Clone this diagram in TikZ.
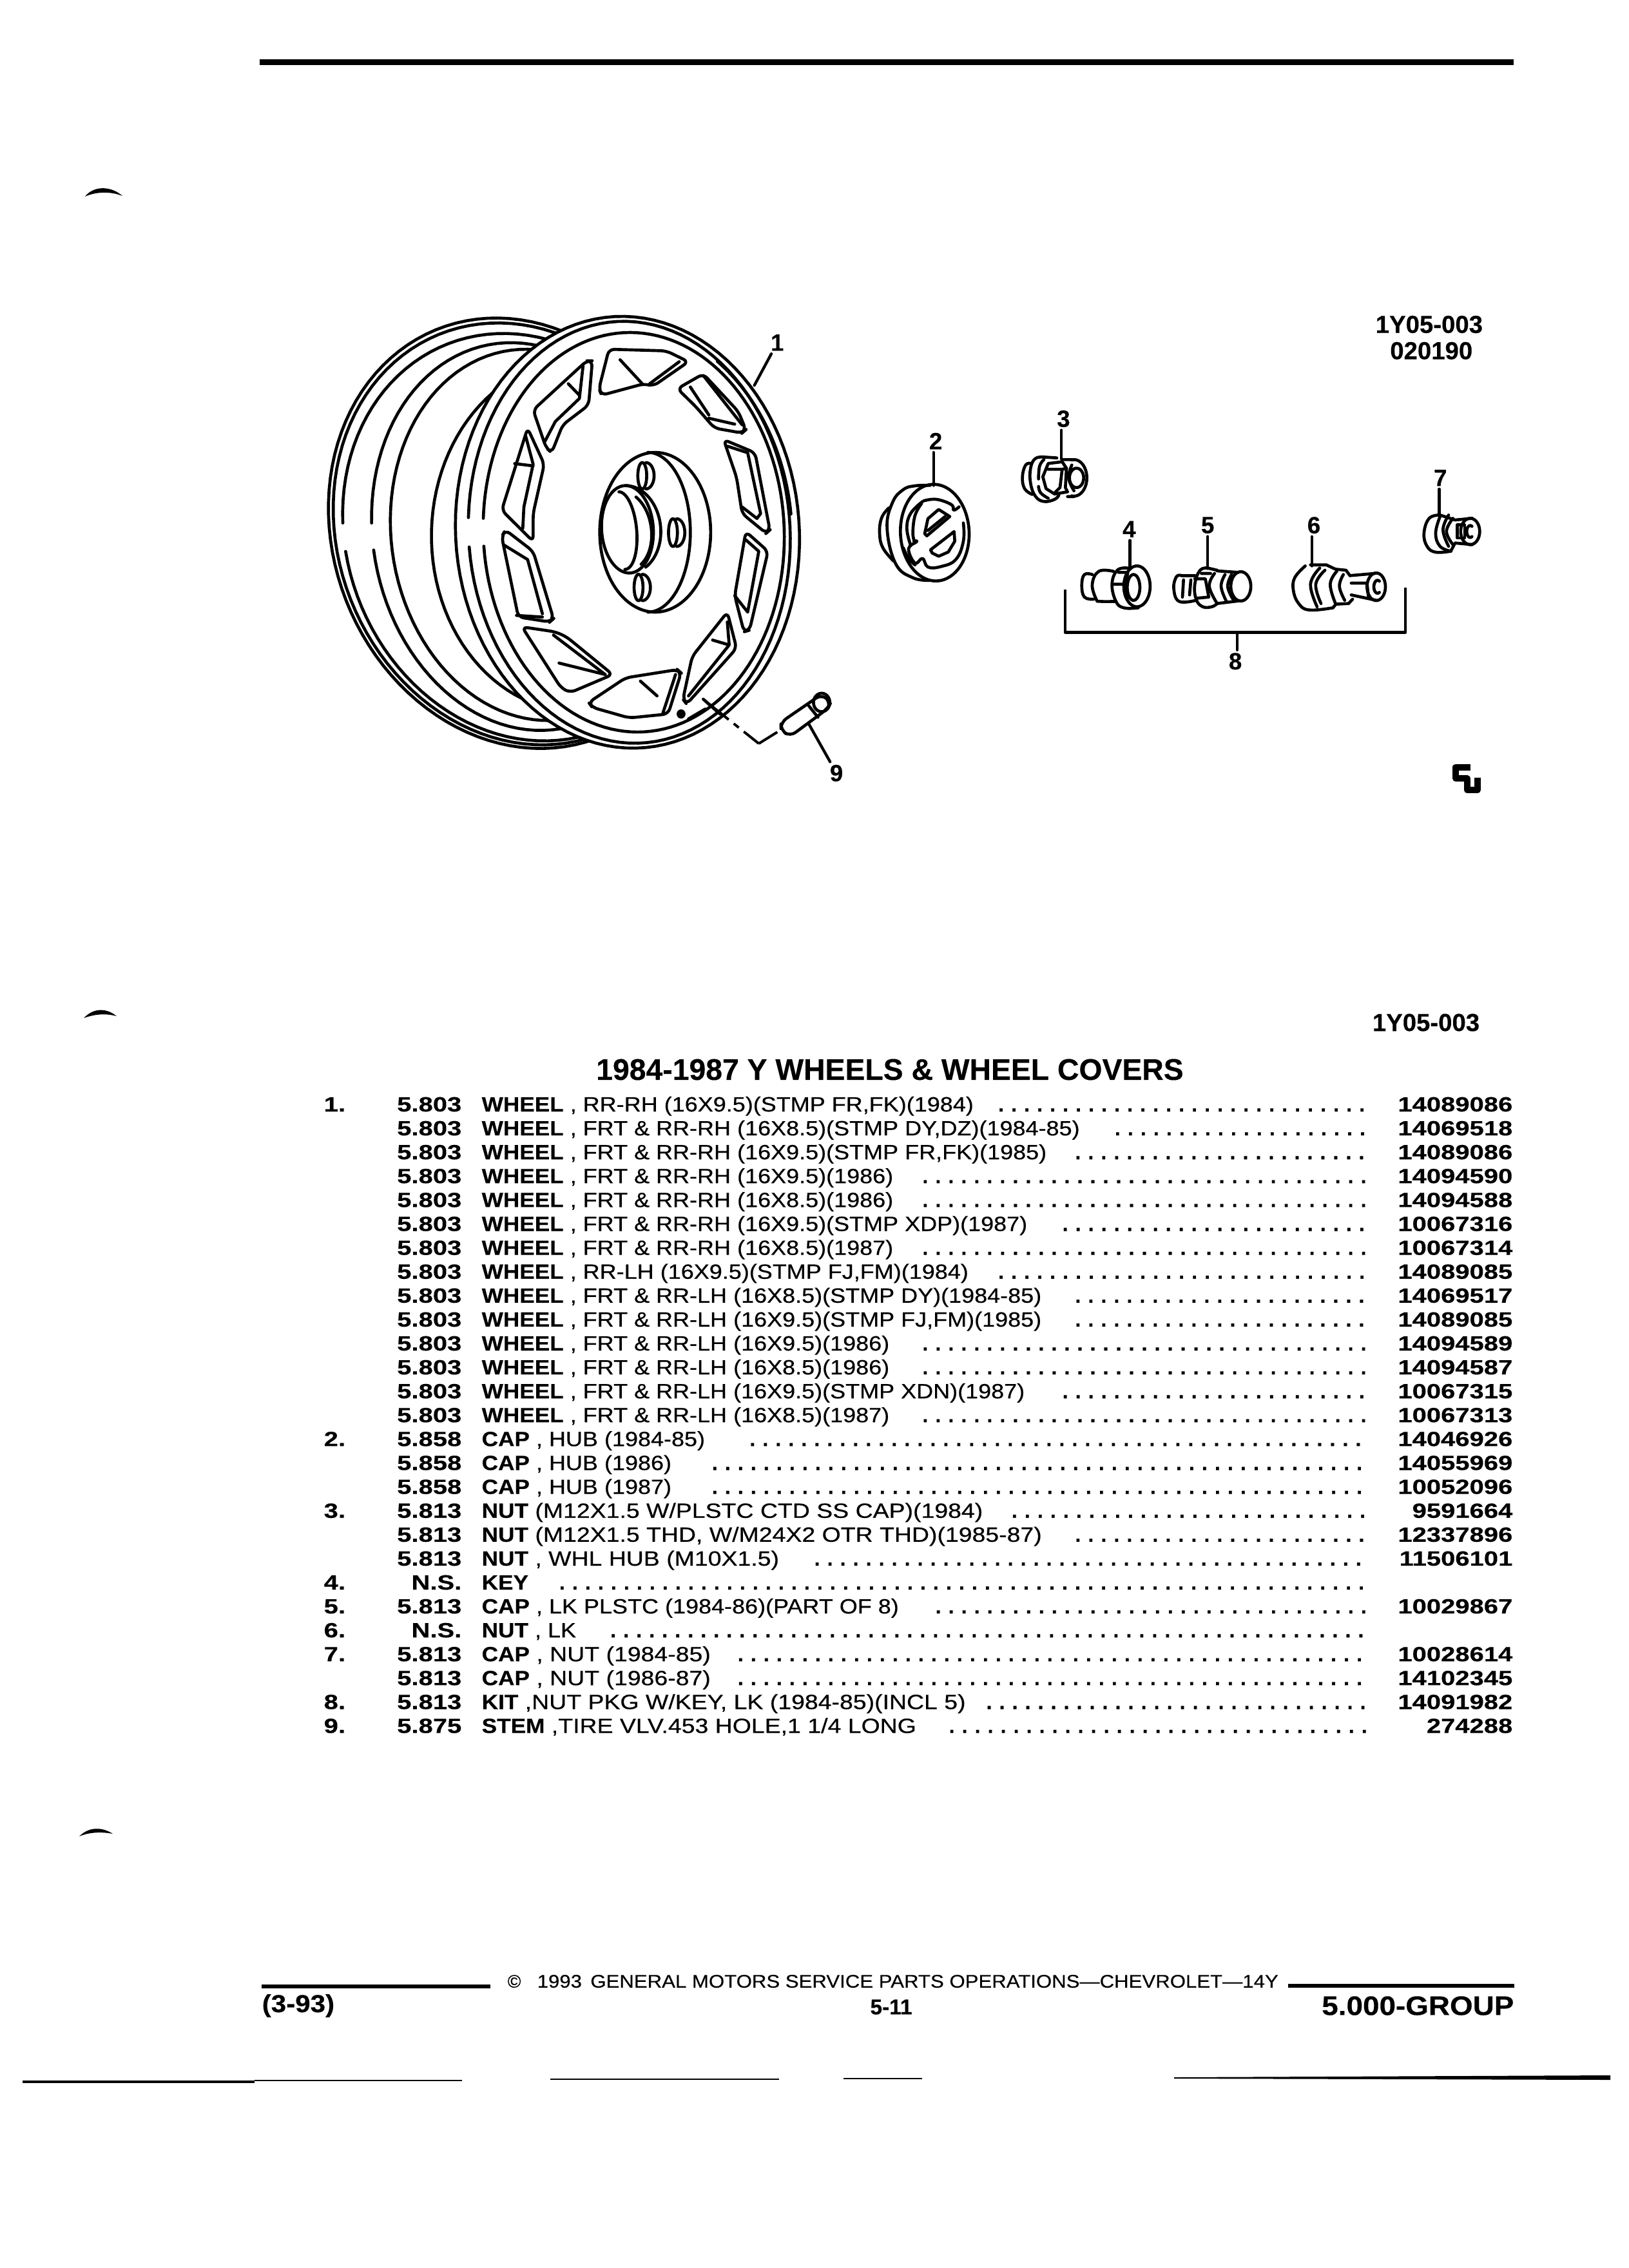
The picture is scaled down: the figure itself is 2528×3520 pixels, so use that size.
\documentclass[tikz,border=0pt]{standalone}
\usepackage{fontspec}
\setmainfont{Liberation Sans}[FakeBold=0.3]
\newfontfamily\fnum{Liberation Sans}[FakeStretch=1.25,FakeBold=0.3]
\newfontfamily\ftxt{Liberation Sans}[FakeStretch=1.1,FakeBold=0.3]
\newfontfamily\freg{Liberation Sans}[FakeStretch=1.125,FakeBold=0.5]
\newfontfamily\fregw{Liberation Sans}[FakeStretch=1.17,FakeBold=0.5]
\tikzset{
  ln/.style={line width=1.4pt,line cap=round,line join=round},
  ld/.style={line width=1.3pt,line cap=round},
  lab/.style={font=\fontsize{11}{11}\selectfont\bfseries,inner sep=1.2pt},
  hdr/.style={font=\fontsize{11.5}{11.5}\selectfont\bfseries,inner sep=0pt},
  cell/.style={inner sep=0pt,font=\fontsize{9.6}{10}\selectfont}
}
% sheared ellipse arc: [opts]{cx}{b}{a}{cy}{ry}{t0}{t1}
\newcommand\elp[8][]{\draw[ln,#1] plot[domain=#7:#8,samples=110,variable=\q] ({#2+#4*cos(\q)+#3*sin(\q)},{#5+#6*sin(\q)});}
\newcommand\crv[1]{\draw[ln] plot[smooth,tension=.7] coordinates {#1};}
\newcommand\prow[7]{%
  \pgfmathsetmacro\ry{1714+#1*37.1}
  \pgfmathsetlengthmacro\dw{(2127-(460+#6*1.212))*0.3pt}
  \node[cell,anchor=base west,font=\fontsize{9.6}{10}\selectfont\fnum\bfseries] (no#1) at (502,\ry+11) {#2};
  \node[cell,anchor=base east,font=\fontsize{9.6}{10}\selectfont\fnum\bfseries] (cat#1) at (717,\ry+11) {#3};
  \node[cell,anchor=base west] (des#1) at (747,\ry+11) {{\ftxt\bfseries #4}{\freg #5}};
  \node[cell,anchor=base west,font=\fontsize{9.6}{10}\selectfont\bfseries] (dot#1) at ({460+#6*1.212},\ry+11) {\hbox to \dw{\cleaders\hbox to 6pt{\hss.\hss}\hfill}};
  \node[cell,anchor=base east,font=\fontsize{9.6}{10}\selectfont\fnum\bfseries] (par#1) at (2348,\ry+11) {#7};
}
\begin{document}
\begin{tikzpicture}[x=0.3pt,y=-0.3pt]
\useasboundingbox (0,0) rectangle (2528,3520);
\fill[white] (0,0) rectangle (2528,3520);
% top rule
\fill[black] (403,92) rectangle (2349,101);
% margin marks
\fill (132,305) .. controls (145,288) and (172,288) .. (190,304) .. controls (172,297) and (150,297) .. (132,305) -- cycle;
\fill (130,1580) .. controls (145,1564) and (165,1564) .. (181,1577) .. controls (165,1573) and (150,1573) .. (130,1580) -- cycle;
\fill (123,2850) .. controls (138,2835) and (158,2835) .. (175,2846) .. controls (158,2843) and (140,2843) .. (123,2850) -- cycle;

% ---------- wheel ----------
\begin{scope}[shift={(460,440)},xscale=.574,yscale=.51]
\elp{600}{60}{510}{760}{655}{0}{360}
\elp{605}{60}{502}{762}{642}{0}{360}
\elp{615}{55}{487}{772}{620}{184}{536}
\elp{620}{40}{415}{770}{590}{184}{536}
\elp{650}{30}{395}{765}{565}{0}{360}
\elp{760}{0}{395}{768}{535}{0}{360}
\elp[fill=white]{895}{15}{465}{757}{657}{0}{360}
\elp{900}{15}{435}{757}{642}{184}{536}
\elp{912}{10}{407}{757}{608}{-100}{176}
\elp{912}{10}{407}{757}{608}{184}{260}
\elp{895}{15}{445}{757}{635}{-55}{-5}
% windows
\begin{scope}[rounded corners=2.5pt]
\draw[ln] (845,200) -- (1000,205) -- (1060,238) -- (965,312) -- (940,305) -- (825,340) -- (818,320) -- cycle;
\draw[ln] (800,235) -- (790,370) -- (720,430) -- (690,515) -- (675,500) -- (640,385) -- (785,235) -- cycle;
\draw[ln] (625,440) -- (670,550) -- (640,700) -- (640,785) -- (555,690) -- cycle;
\draw[ln] (565,750) -- (640,815) -- (695,1020) -- (685,1030) -- (600,1015) -- (555,770) -- cycle;
\draw[ln] (610,1045) -- (700,1060) -- (730,1075) -- (855,1190) -- (740,1245) -- (715,1230) -- cycle;
\draw[ln] (890,1200) -- (1030,1175) -- (1040,1185) -- (1005,1310) -- (900,1322) -- (800,1290) -- (790,1275) -- cycle;
\draw[ln] (1165,1000) -- (1190,1110) -- (1055,1280) -- (1045,1265) -- (1070,1135) -- cycle;
\draw[ln] (1215,755) -- (1275,815) -- (1225,1055) -- (1210,1060) -- (1185,950) -- cycle;
\draw[ln] (1155,475) -- (1240,515) -- (1280,750) -- (1270,760) -- (1205,700) -- (1190,590) -- cycle;
\draw[ln] (1030,320) -- (1100,275) -- (1195,390) -- (1215,445) -- (1205,455) -- (1130,440) -- (1080,375) -- cycle;
\end{scope}
\draw[ln] (875,232)--(935,305) (1035,238)--(955,305);
\draw[ln] (775,250)--(765,350)--(700,420)--(672,480) (735,305)--(765,340);
\draw[ln] (620,465)--(640,550)--(615,680)--(612,745) (590,548)--(640,555);
\draw[ln] (560,795)--(625,840)--(665,1005) (595,1010)--(665,1015);
\draw[ln] (695,1070)--(835,1190) (710,1155)--(835,1190);
\draw[ln] (1025,1190)--(990,1310) (930,1210)--(975,1255);
\draw[ln] (1165,1030)--(1170,1100)--(1060,1255) (1125,1085)--(1170,1100);
\draw[ln] (1215,780)--(1250,815)--(1220,1000)--(1185,950);
\draw[ln] (1165,495)--(1220,515)--(1255,700)--(1245,715)--(1205,680);
\draw[ln] (1065,315)--(1115,400) (1100,280)--(1205,430) (1115,410)--(1185,428);
% hub
\elp{970}{0}{150}{757}{243}{0}{360}
\elp{950}{0}{115}{757}{243}{-90}{90}
\elp[fill=white]{895}{5}{70}{748}{133}{0}{360}
\elp{895}{5}{90}{748}{133}{-90}{60}
\elp{880}{8}{40}{752}{118}{-90}{90}
\elp{890}{8}{70}{752}{118}{-60}{60}
\elp{945}{0}{22}{585}{40}{-90}{90}
\elp{935}{0}{12}{585}{40}{0}{360}
\elp{1028}{0}{22}{758}{42}{-90}{90}
\elp{1018}{0}{12}{758}{42}{0}{360}
\elp{935}{0}{22}{925}{40}{-90}{90}
\elp{925}{0}{12}{925}{40}{0}{360}
% valve
\fill (1040,1310) ellipse [x radius=12,y radius=14];
\draw[ln] (1100,1265)--(1145,1310) (1060,1325)--(1105,1295);
\coordinate (v1) at (1105,1270);\coordinate (v2) at (1250,1400);\coordinate (v3) at (1300,1365);
\draw[line width=1.2pt,dash pattern=on 14pt off 3pt on 3pt off 3pt] (v1)--(v2);
\draw[line width=1.2pt] (v2)--(v3);
\draw[ln,fill=white,rounded corners=3pt] (1310,1335)--(1420,1250)--(1445,1275)--(1435,1295)--(1335,1378)--(1310,1360)--cycle;
\elp{1420}{0}{22}{1275}{28}{0}{360}
\draw[ln] (1385,1285)--(1410,1320);
\coordinate (c9) at (1385,1340);\coordinate (c1) at (1238,310);
\node[lab] (L1) at (1300,180) {1};
\node[lab] (L9) at (1460,1490) {9};
\draw[ld] (L1) -- (c1);
\draw[ld] (L9) -- (c9);
\end{scope}

% ---------- part 2 and 3 ----------
\begin{scope}[shift={(1320,680)},scale=1/3]
\elp[fill=white]{392}{5}{160}{440}{225}{0}{360}
\crv{(370,220)(300,222)(245,240)(195,300)(170,420)(210,585)(290,650)(370,662)}
\crv{(178,325)(145,370)(135,440)(150,510)(200,572)}
\crv{(340,292)(400,285)(470,310)(480,335)(505,320)}
\crv{(525,395)(525,480)(490,565)(420,598)(360,600)(335,560)(300,582)(270,515)(308,482)(295,480)}
\crv{(335,295)(280,350)(262,420)(280,500)}
\crv{(330,305)(300,360)(290,440)(297,480)}
\draw[ln] (345,445)--(360,375)--(410,332)--(462,365)--(355,455)--cycle;
\draw[ln] (360,430)--(440,365);
\draw[ln] (372,520)--(482,435)--(485,480)--(455,530)--(410,550)--(380,535)--cycle;
\crv{(245,510)(270,560)(300,590)}
% nut 3
\crv{(840,118)(815,125)(800,180)(810,235)(845,262)}
\crv{(900,88)(860,95)(838,140)(838,210)(860,270)(900,295)(950,285)(970,265)}
\crv{(900,100)(880,130)(875,190)}
\crv{(875,225)(885,255)(920,280)}
\draw[ln] (900,88)--(960,92) (985,100)--(1040,100) (1010,272)--(1040,272);
\draw[ln] (920,118)--(985,110)--(1005,140)--(1000,230)--(1010,250)--(950,260)--(910,235)--(895,180)--cycle;
\draw[ln] (920,145)--(985,145)--(975,230)--(950,255) (985,145)--(1005,140);
\elp{1040}{0}{60}{185}{85}{-100}{100}
\elp{1052}{0}{33}{185}{45}{0}{360}
\crv{(1030,125)(1015,185)(1040,245)}
\end{scope}

% ---------- parts 4 5 6 ----------
\begin{scope}[shift={(1640,760)},xscale=.408,yscale=1/3]
% 4
\crv{(135,395)(105,395)(95,445)(105,500)(140,510)}
\crv{(215,380)(160,380)(135,440)(150,510)(165,520)(225,520)}
\crv{(270,365)(230,375)(210,440)(225,520)(255,550)(310,550)}
\elp{305}{0}{50}{450}{95}{0}{360}
\elp{292}{0}{24}{455}{60}{0}{360}
\draw[ln] (235,385)--(270,385)--(262,440)--(268,510) (218,440)--(262,440);
% 5
\crv{(475,400)(455,405)(445,460)(465,520)(530,515)}
\draw[ln] (475,400)--(525,400);
\draw[ln] (482,420)--(478,500) (510,420)--(505,490);
\crv{(575,365)(545,375)(525,440)(530,510)(555,545)(590,545)(610,530)}
\draw[ln] (575,365)--(610,375) (525,415)--(565,415)--(578,500)--(535,505) (550,390)--(585,390);
\draw[ln] (610,378)--(690,385) (610,530)--(690,518);
\elp{700}{0}{38}{450}{68}{0}{360}
\crv{(600,390)(580,450)(610,530)}
\crv{(640,395)(625,450)(645,520)}
\crv{(665,395)(650,450)(670,510)}
% 6
\crv{(945,355)(905,410)(900,470)(920,530)(960,560)(1050,550)}
\draw[ln] (965,350)--(1025,350)--(1060,370)--(1100,375)--(1115,400) (1050,550)--(1062,533)--(1110,530)--(1125,510);
\crv{(1000,365)(965,440)(990,545)}
\crv{(1020,375)(985,440)(1005,530)}
\crv{(1065,380)(1040,440)(1060,530)}
\crv{(1090,395)(1075,450)(1095,515)}
\draw[ln] (1115,400)--(1210,390) (1120,490)--(1215,515) (1120,435)--(1180,435)--(1185,495);
\elp{1215}{0}{35}{452}{64}{0}{360}
\elp{1220}{0}{14}{452}{30}{60}{300}
\end{scope}

% ---------- part 7, labels, bracket, logo ----------
\begin{scope}[shift={(1300,450)},xscale=.67,yscale=.51]
\crv{(1395,685)(1370,695)(1358,740)(1365,780)(1385,798)(1420,795)}
\crv{(1395,690)(1385,740)(1395,780)(1420,795)}
\crv{(1415,685)(1402,730)(1415,780)}
\crv{(1425,695)(1410,735)(1425,775)}
\draw[ln] (1395,685)--(1430,700)--(1470,695) (1420,795)--(1430,770)--(1470,775);
\elp{1465}{0}{22}{735}{40}{0}{360}
\elp{1465}{0}{8}{735}{18}{60}{300}
\draw[ln] (1435,715)--(1452,715)--(1452,755)--(1435,755)--cycle;
\coordinate (c2) at (222,595);\coordinate (c3) at (518,515);\coordinate (c4) at (677,850);
\coordinate (c5) at (857,848);\coordinate (c6) at (1098,840);\coordinate (c7) at (1393,685);
\coordinate (b1) at (527,912);\coordinate (b2) at (527,1042);\coordinate (b3) at (1315,1042);\coordinate (b4) at (1315,905);\coordinate (bm) at (925,1042);
\node[lab] (L2) at (227,460) {2};
\node[lab] (L3) at (523,392) {3};
\node[lab] (L4) at (675,728) {4};
\node[lab] (L5) at (857,716) {5};
\node[lab] (L6) at (1103,716) {6};
\node[lab] (L7) at (1396,572) {7};
\node[lab] (L8) at (921,1130) {8};
\draw[ld] (L2.south -| c2) -- (c2);
\draw[ld] (L3.south -| c3) -- (c3);
\draw[ld] (L4.south -| c4) -- (c4);
\draw[ld] (L5.south -| c5) -- (c5);
\draw[ld] (L6.south -| c6) -- (c6);
\draw[ld] (L7.south -| c7) -- (c7);
\draw[line width=1.4pt,line join=round] (b1)--(b2)--(b3)--(b4);
\draw[ld] (bm) -- (L8.north -| bm);
\draw[line width=3pt,line join=round] (1465,1452)--(1432,1452)--(1432,1487)--(1458,1487)--(1458,1522)--(1482,1522)--(1482,1485);
\node[hdr] (fig1) at (1370,105) {1Y05-003};
\node[hdr] (fig2) at (1375,185) {020190};
\end{scope}

% ---------- table ----------
\node[hdr] (ref) at (2213,1587) {1Y05-003};
\node[inner sep=0pt,font=\fontsize{13.9}{14}\selectfont\bfseries] (title) at (1381,1660) {1984-1987 Y WHEELS \& WHEEL COVERS};
\prow{0}{1.}{5.803}{WHEEL}{ , RR-RH (16X9.5)(STMP FR,FK)(1984)}{890}{14089086}
\prow{1}{}{5.803}{WHEEL}{ , FRT \& RR-RH (16X8.5)(STMP DY,DZ)(1984-85)}{1040}{14069518}
\prow{2}{}{5.803}{WHEEL}{ , FRT \& RR-RH (16X9.5)(STMP FR,FK)(1985)}{988}{14089086}
\prow{3}{}{5.803}{WHEEL}{ , FRT \& RR-RH (16X9.5)(1986)}{795}{14094590}
\prow{4}{}{5.803}{WHEEL}{ , FRT \& RR-RH (16X8.5)(1986)}{795}{14094588}
\prow{5}{}{5.803}{WHEEL}{ , FRT \& RR-RH (16X9.5)(STMP XDP)(1987)}{972}{10067316}
\prow{6}{}{5.803}{WHEEL}{ , FRT \& RR-RH (16X8.5)(1987)}{795}{10067314}
\prow{7}{}{5.803}{WHEEL}{ , RR-LH (16X9.5)(STMP FJ,FM)(1984)}{890}{14089085}
\prow{8}{}{5.803}{WHEEL}{ , FRT \& RR-LH (16X8.5)(STMP DY)(1984-85)}{988}{14069517}
\prow{9}{}{5.803}{WHEEL}{ , FRT \& RR-LH (16X9.5)(STMP FJ,FM)(1985)}{988}{14089085}
\prow{10}{}{5.803}{WHEEL}{ , FRT \& RR-LH (16X9.5)(1986)}{795}{14094589}
\prow{11}{}{5.803}{WHEEL}{ , FRT \& RR-LH (16X8.5)(1986)}{795}{14094587}
\prow{12}{}{5.803}{WHEEL}{ , FRT \& RR-LH (16X9.5)(STMP XDN)(1987)}{972}{10067315}
\prow{13}{}{5.803}{WHEEL}{ , FRT \& RR-LH (16X8.5)(1987)}{795}{10067313}
\prow{14}{2.}{5.858}{CAP}{ , HUB (1984-85)}{567}{14046926}
\prow{15}{}{5.858}{CAP}{ , HUB (1986)}{520}{14055969}
\prow{16}{}{5.858}{CAP}{ , HUB (1987)}{520}{10052096}
\prow{17}{3.}{5.813}{NUT}{\fregw{} (M12X1.5 W/PLSTC CTD SS CAP)(1984)}{908}{9591664}
\prow{18}{}{5.813}{NUT}{\fregw{} (M12X1.5 THD, W/M24X2 OTR THD)(1985-87)}{988}{12337896}
\prow{19}{}{5.813}{NUT}{\fregw{} , WHL HUB (M10X1.5)}{650}{11506101}
\prow{20}{4.}{N.S.}{KEY}{}{327}{}
\prow{21}{5.}{5.813}{CAP}{ , LK PLSTC (1984-86)(PART OF 8)}{812}{10029867}
\prow{22}{6.}{N.S.}{NUT}{ , LK}{392}{}
\prow{23}{7.}{5.813}{CAP}{\fregw{} , NUT (1984-85)}{553}{10028614}
\prow{24}{}{5.813}{CAP}{\fregw{} , NUT (1986-87)}{553}{14102345}
\prow{25}{8.}{5.813}{KIT}{\fregw{} ,NUT PKG W/KEY, LK (1984-85)(INCL 5)}{876}{14091982}
\prow{26}{9.}{5.875}{STEM}{\fregw{} ,TIRE VLV.453 HOLE,1 1/4 LONG}{830}{274288}

% ---------- footer ----------
\fill (406,3080) rectangle (761,3086);
\fill (1999,3079) rectangle (2350,3085);
\node[inner sep=0pt,anchor=west,font=\fontsize{8.5}{9}\selectfont] (copy) at (787,3075) {©};
\node[inner sep=0pt,anchor=west,font=\fontsize{8.5}{9}\selectfont\ftxt] (gm) at (833,3075) {1993\, GENERAL MOTORS SERVICE PARTS OPERATIONS—CHEVROLET—14Y};
\node[inner sep=0pt,anchor=west,font=\fontsize{11.5}{12}\selectfont\ftxt\bfseries] (date) at (406,3113) {(3-93)};
\node[inner sep=0pt,font=\fontsize{10}{10}\selectfont\bfseries] (pg) at (1383,3115) {5-11};
\node[inner sep=0pt,anchor=east,font=\fontsize{12.5}{13}\selectfont\ftxt\bfseries] (grp) at (2350,3113) {5.000-GROUP};
% bottom scan edge
\fill (35,3229) rectangle (395,3233);
\fill (395,3228) rectangle (717,3230);
\fill (854,3226) rectangle (1209,3228);
\fill (1309,3225) rectangle (1431,3227);
\fill (1822,3224) -- (2499,3221) -- (2499,3228) -- (1822,3226) -- cycle;
\end{tikzpicture}
\end{document}
